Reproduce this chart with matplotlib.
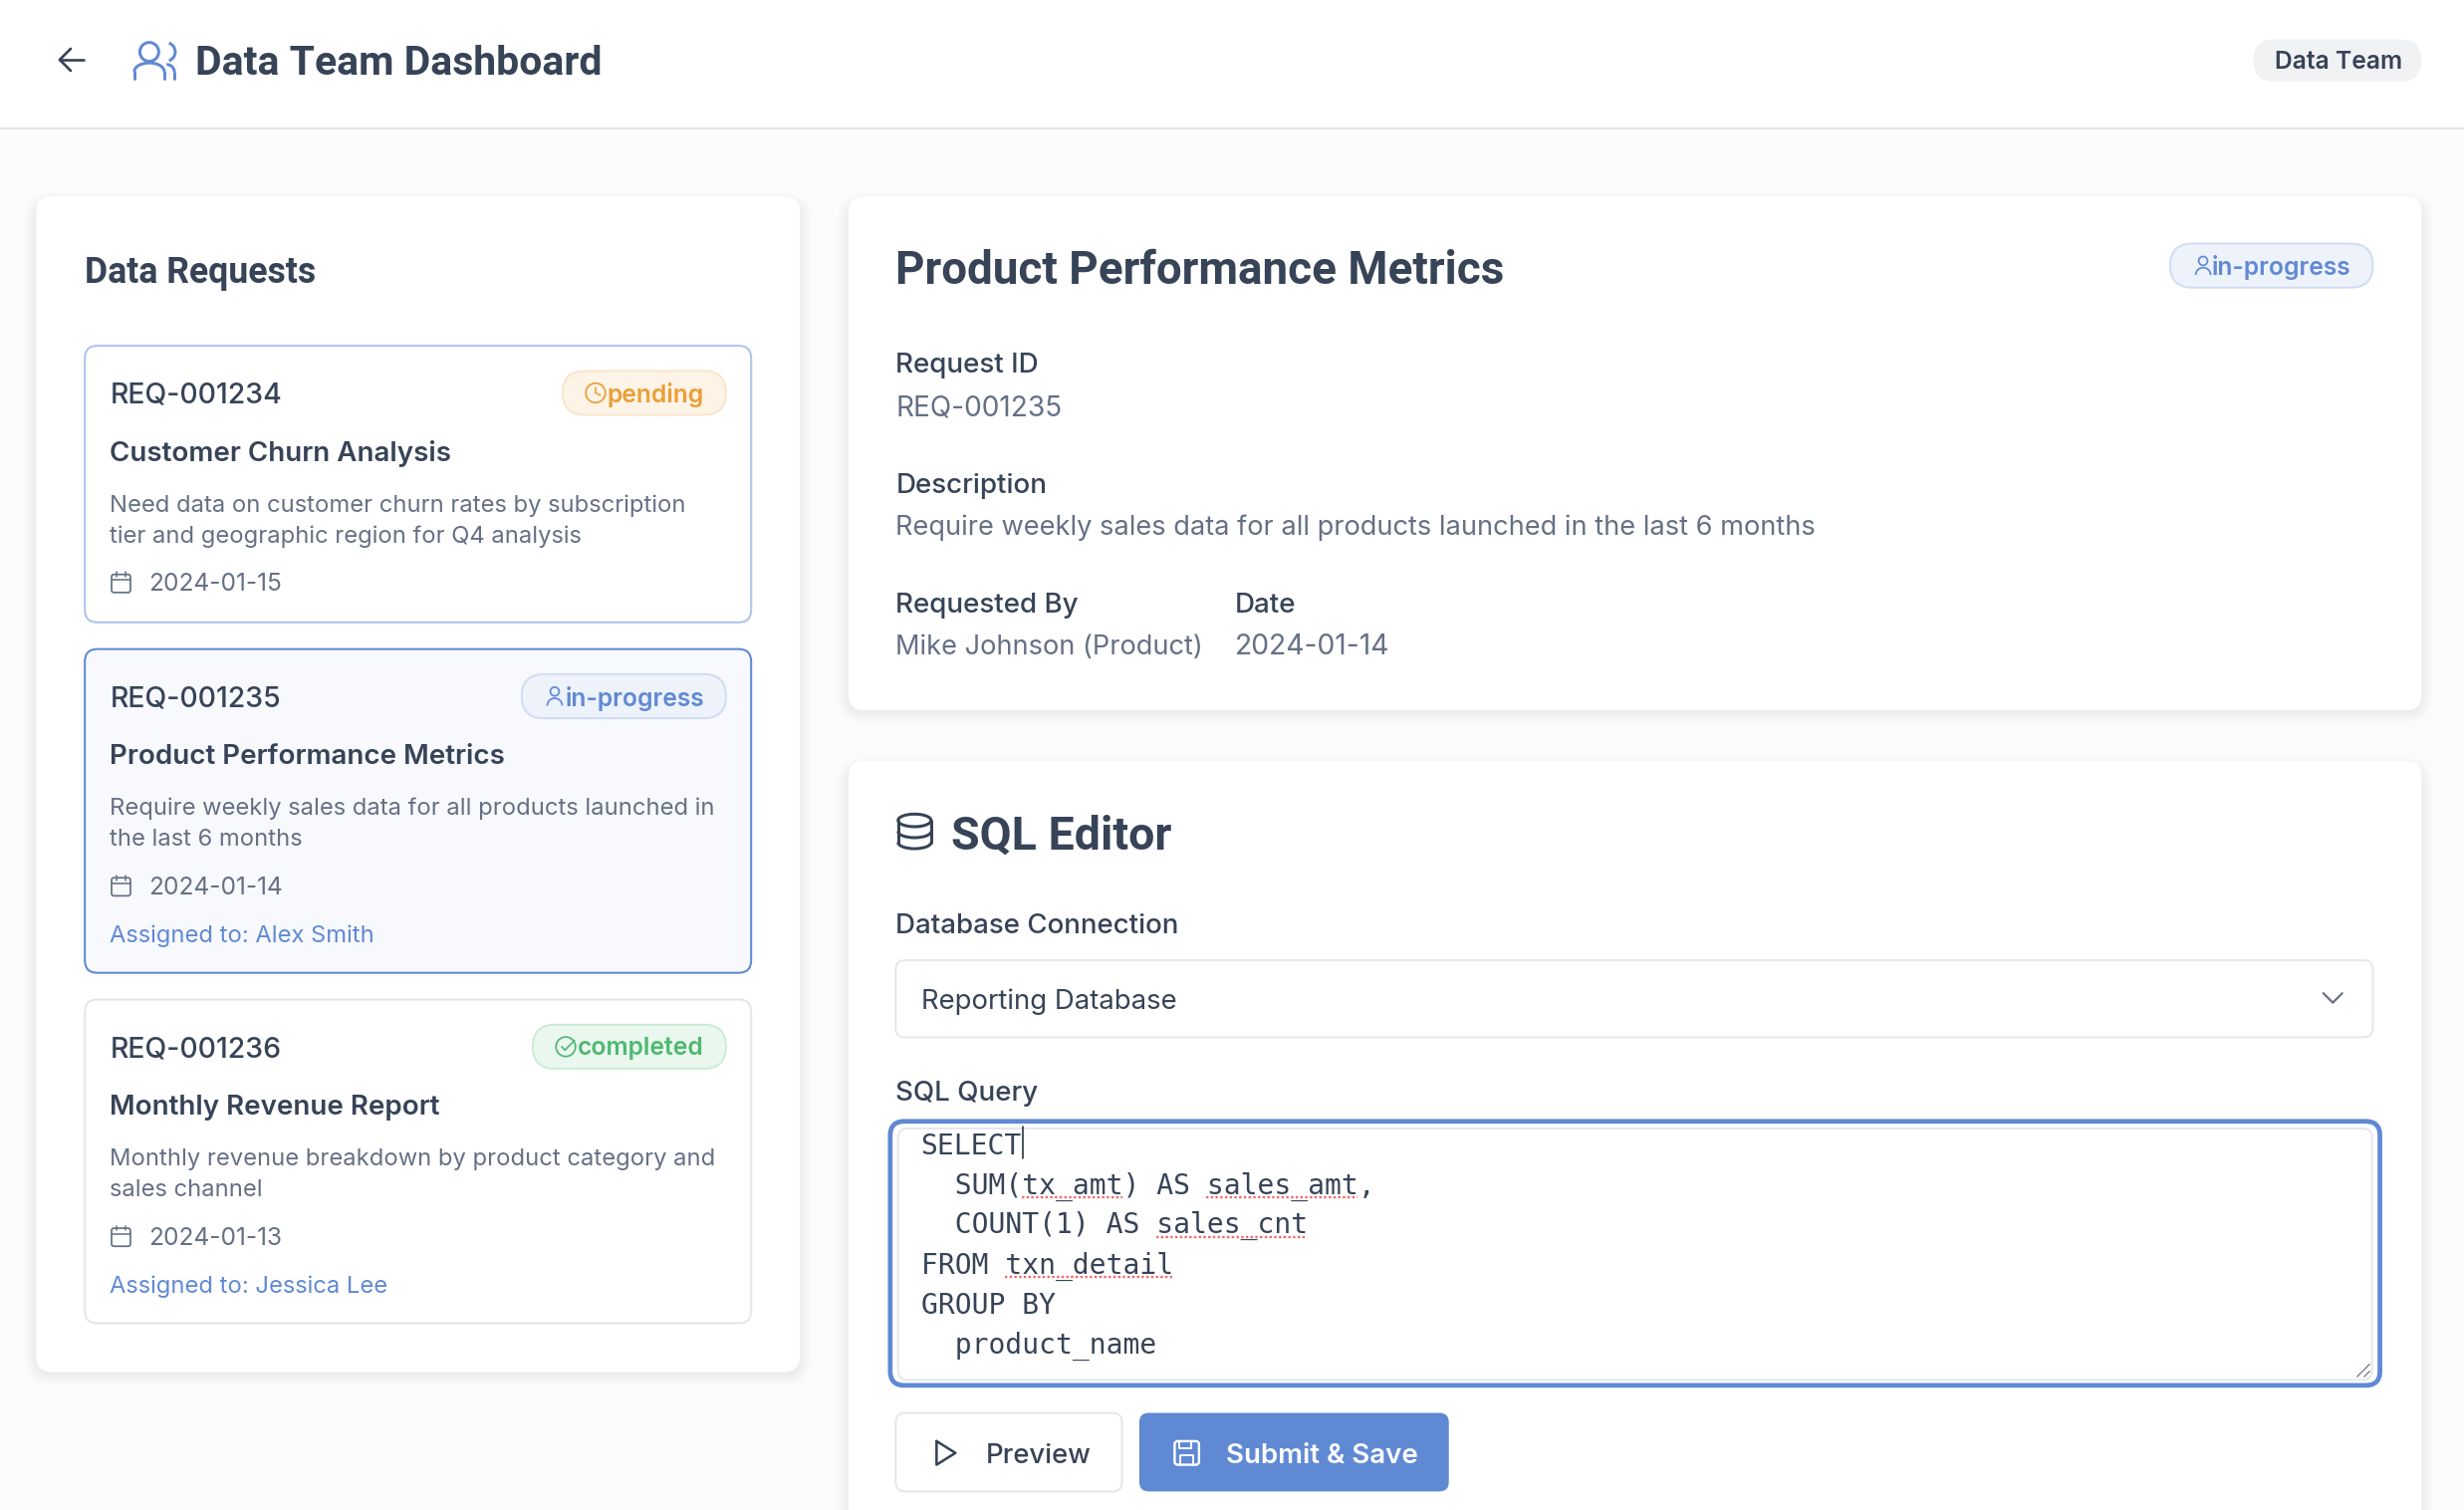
import matplotlib
matplotlib.use("Agg")
import matplotlib.pyplot as plt
from matplotlib.patches import FancyBboxPatch, Circle, Arc, Rectangle
from matplotlib.lines import Line2D

plt.rcParams['font.family'] = ['Inter', 'DejaVu Sans']

# ---- content ----
page_title = "Data Team Dashboard"
team_badge = "Data Team"
list_title = "Data Requests"
req_ids = ["REQ-001234", "REQ-001235", "REQ-001236"]
req_titles = ["Customer Churn Analysis", "Product Performance Metrics", "Monthly Revenue Report"]
req_desc = [["Need data on customer churn rates by subscription", "tier and geographic region for Q4 analysis"],
            ["Require weekly sales data for all products launched in", "the last 6 months"],
            ["Monthly revenue breakdown by product category and", "sales channel"]]
req_dates = ["2024-01-15", "2024-01-14", "2024-01-13"]
req_status = ["pending", "in-progress", "completed"]
req_assigned = [None, "Assigned to: Alex Smith", "Assigned to: Jessica Lee"]
sql_lines = ["SELECT", "  SUM(tx_amt) AS sales_amt,", "  COUNT(1) AS sales_cnt", "FROM txn_detail", "GROUP BY", "  product_name"]

# ---- colours ----
INK = "#374357"; MUTED = "#667085"; BLUE = "#6089d4"; LINE = "#e5e6ec"
STATUS = {"pending": ("#fdf3e6", "#f9e5ca", "#ea9f37"),
          "in-progress": ("#edf2fb", "#cfdcf2", "#6089d4"),
          "completed": ("#eaf7ee", "#c9ecd4", "#4fb872")}

fig = plt.figure(figsize=(24.74, 15.16), dpi=100, facecolor="#fbfbfc")
ax = fig.add_axes([0, 0, 1, 1])
ax.set_xlim(0, 1568); ax.set_ylim(960.8, 0); ax.axis("off")

PT = 2474 / 1568 * 0.72
HEAD = ["Roboto", "DejaVu Sans"]

def T(x, y, s, size, color=INK, weight="normal", ha="left", family=None, z=10):
    kw = {"family": family} if family else {}
    ax.text(x, y, s, fontsize=size * PT, color=color, fontweight=weight, ha=ha, va="center_baseline", zorder=z, **kw)

def box(x0, y0, x1, y1, r, fc="white", ec="none", lw=0, z=2, alpha=None):
    ax.add_patch(FancyBboxPatch((x0, y0), x1 - x0, y1 - y0, boxstyle=f"round,pad=0,rounding_size={r}",
                                fc=fc, ec=ec, lw=lw, zorder=z, alpha=alpha))

def L(xs, ys, c=INK, lw=1.6, z=11, **kw):
    ax.add_line(Line2D(xs, ys, color=c, lw=lw * PT, zorder=z, solid_capstyle="round", solid_joinstyle="round", **kw))

def card(x0, y0, x1, y1):
    for i in [7, 6, 5, 4, 3, 2, 1, 0]:
        box(x0 - i, y0 - i + 5, x1 + i, y1 + i + 1, 10 + i, fc="#2a3550", alpha=.0065, z=1)
    box(x0, y0, x1, y1, 10, z=2)

def calendar(x, y, c=MUTED):
    box(x, y + 1.5, x + 12, y + 13, 1.5, fc="none", ec=c, lw=1.1 * PT, z=11)
    L([x, x + 12], [y + 5, y + 5], c, 1)
    L([x + 3.2] * 2, [y, y + 3], c, 1); L([x + 8.8] * 2, [y, y + 3], c, 1)

def status_pill(x0, x1, y0, y1, status):
    fc, ec, tc = STATUS[status]
    box(x0, y0, x1, y1, (y1 - y0) / 2, fc=fc, ec=ec, lw=1.2 * PT, z=5)
    cy = (y0 + y1) / 2
    ix = x0 + 21
    if status == "in-progress":
        ax.add_patch(Circle((ix, cy - 3), 2.8, fc="none", ec=tc, lw=1.1 * PT, zorder=11))
        ax.add_patch(Arc((ix, cy + 6), 9.5, 9.5, theta1=180, theta2=360, ec=tc, lw=1.1 * PT, zorder=11))
    else:
        ax.add_patch(Circle((ix, cy), 6.2, fc="none", ec=tc, lw=1.1 * PT, zorder=11))
        if status == "pending":
            L([ix, ix, ix + 3], [cy - 3.5, cy, cy + 1.5], tc, 1)
        else:
            L([ix - 2.5, ix - .5, ix + 5.5], [cy, cy + 2.2, cy - 4], tc, 1.1)
    T(x1 - 14, cy - .3, status, 15.6, color=tc, weight="semibold", ha="right")

# ---- header ----
ax.add_patch(Rectangle((0, 0), 1568, 81, fc="white", ec="none", zorder=1))
L([0, 1568], [81.5, 81.5], "#dfe1e7", 1, z=2)
L([53, 38], [38, 38], INK, 1.7); L([45, 38, 45], [31, 38, 45], INK, 1.7)
ax.add_patch(Circle((95, 33), 6, fc="none", ec=BLUE, lw=1.9 * PT, zorder=11))
ax.add_patch(Arc((105.5, 33), 12, 12, theta1=-70, theta2=70, ec=BLUE, lw=1.9 * PT, zorder=11))
ax.add_patch(Arc((95, 45.5), 19, 11, theta1=180, theta2=360, ec=BLUE, lw=1.9 * PT, zorder=11))
L([85.5, 85.5], [45.5, 50], BLUE, 1.9); L([104.5, 104.5], [45.5, 50], BLUE, 1.9)
ax.add_patch(Arc((106, 46), 10, 10, theta1=270, theta2=360, ec=BLUE, lw=1.9 * PT, zorder=11))
L([111, 111], [46, 50], BLUE, 1.9)
T(124.5, 38.3, page_title, 25.9, weight="bold", family=HEAD)
box(1434, 25, 1541, 52, 13.5, fc="#f1f2f4", z=3)
T(1488, 38.3, team_badge, 15.6, weight="semibold", ha="center")

# ---- left card ----
card(23, 125, 509, 873)
T(54, 171.3, list_title, 22.6, weight="bold", family=HEAD)
tops = [220, 413, 636]; bots = [396, 619, 842]
edges = ["#aec3ea", BLUE, LINE]; fills = ["white", "#f7f9fd", "white"]
pills = [358, 332, 339]
for i in range(3):
    t = tops[i]
    box(54, t, 478, bots[i], 8, fc=fills[i], ec=edges[i], lw=1.3 * PT, z=3)
    T(70, t + 30, req_ids[i], 18, weight="medium")
    status_pill(pills[i], 462, t + 16, t + 44, req_status[i])
    T(70, t + 66.8, req_titles[i], 17.6, weight="semibold")
    T(70, t + 100, req_desc[i][0], 15.05, color=MUTED)
    T(70, t + 120, req_desc[i][1], 15.05, color=MUTED)
    calendar(71, t + 144)
    T(94.5, t + 150.3, req_dates[i], 15.5, color=MUTED)
    if req_assigned[i]:
        T(70, t + 180.8, req_assigned[i], 15.05, color=BLUE)

# ---- detail card ----
card(540, 125, 1541, 452)
T(570, 169.5, req_titles[1], 29, weight="bold", family=HEAD)
status_pill(1381, 1510, 155, 183, "in-progress")
T(570, 231, "Request ID", 17.6, weight="medium")
T(570, 257.7, req_ids[1], 17.75, color=MUTED)
T(570, 307.3, "Description", 17.6, weight="medium")
T(570, 334, "Require weekly sales data for all products launched in the last 6 months", 17.25, color=MUTED)
T(570, 383.3, "Requested By", 17.6, weight="medium")
T(570, 410, "Mike Johnson (Product)", 17.25, color=MUTED)
T(786, 383.3, "Date", 17.6, weight="medium")
T(786, 410, req_dates[1], 17.9, color=MUTED)

# ---- SQL card ----
card(540, 484, 1541, 1000)
ax.add_patch(Arc((582, 522), 21, 8, ec=INK, lw=1.9 * PT, zorder=11))
L([571.5, 571.5], [522, 536], INK, 1.9); L([592.5, 592.5], [522, 536], INK, 1.9)
ax.add_patch(Arc((582, 536), 21, 8, theta1=0, theta2=180, ec=INK, lw=1.9 * PT, zorder=11))
ax.add_patch(Arc((582, 529), 21, 8, theta1=0, theta2=180, ec=INK, lw=1.9 * PT, zorder=11))
T(605, 529.5, "SQL Editor", 29.5, weight="bold", family=HEAD)
T(570, 587.3, "Database Connection", 17.55, weight="medium")
box(570, 611, 1510, 660, 6, ec=LINE, lw=1.2 * PT, z=3)
T(586, 635.7, "Reporting Database", 17.45)
L([1478.5, 1484.5, 1490.5], [632, 638, 632], MUTED, 1.4)
T(570, 694, "SQL Query", 17.6, weight="medium")
box(566.5, 713.5, 1514.5, 881.5, 9, fc="white", ec=BLUE, lw=3 * PT, z=3)
box(571.5, 718, 1509.5, 878, 6, fc="white", ec=LINE, lw=1.2 * PT, z=4)

MONO = "DejaVu Sans Mono"
ys = [727.3, 752.8, 777.8, 803.3, 828.8, 854.3]
for y, s in zip(ys, sql_lines):
    T(586, y, s, 17.75, family=[MONO], z=10)
L([651, 651], [717, 737], "#222a38", 1, z=12)
CW = 10.68
for row, col0, n in [(1, 6, 6), (1, 17, 9), (2, 14, 9), (3, 5, 10)]:
    x0 = 586 + col0 * CW
    ax.add_line(Line2D([x0, x0 + n * CW], [ys[row] + 9.3] * 2, color="#f06a6a", lw=1.5 * PT,
                       ls=(0, (1, 1)), zorder=11, dash_capstyle="butt"))
L([1500, 1508], [876, 868], "#6f7682", .8); L([1504.5, 1508], [876, 872.5], "#6f7682", .8)

# ---- buttons ----
box(570, 899, 714, 949, 6, ec=LINE, lw=1.2 * PT, z=3)
L([596, 596, 608, 596], [917, 932, 924.5, 917], INK, 1.6)
T(627, 924.5, "Preview", 17.4, weight="medium")
box(725, 899, 922, 949, 6, fc=BLUE, z=3)
box(747.5, 917, 763, 932, 2, fc="none", ec="white", lw=1.5 * PT, z=11)
L([750.5, 750.5, 758, 758], [917, 921.5, 921.5, 917], "white", 1.2)
L([751, 751, 759.5, 759.5], [932, 926, 926, 932], "white", 1.2)
T(780, 924.5, "Submit & Save", 17.5, color="white", weight="semibold")

fig.savefig("out.png", dpi=100, facecolor=fig.get_facecolor())
